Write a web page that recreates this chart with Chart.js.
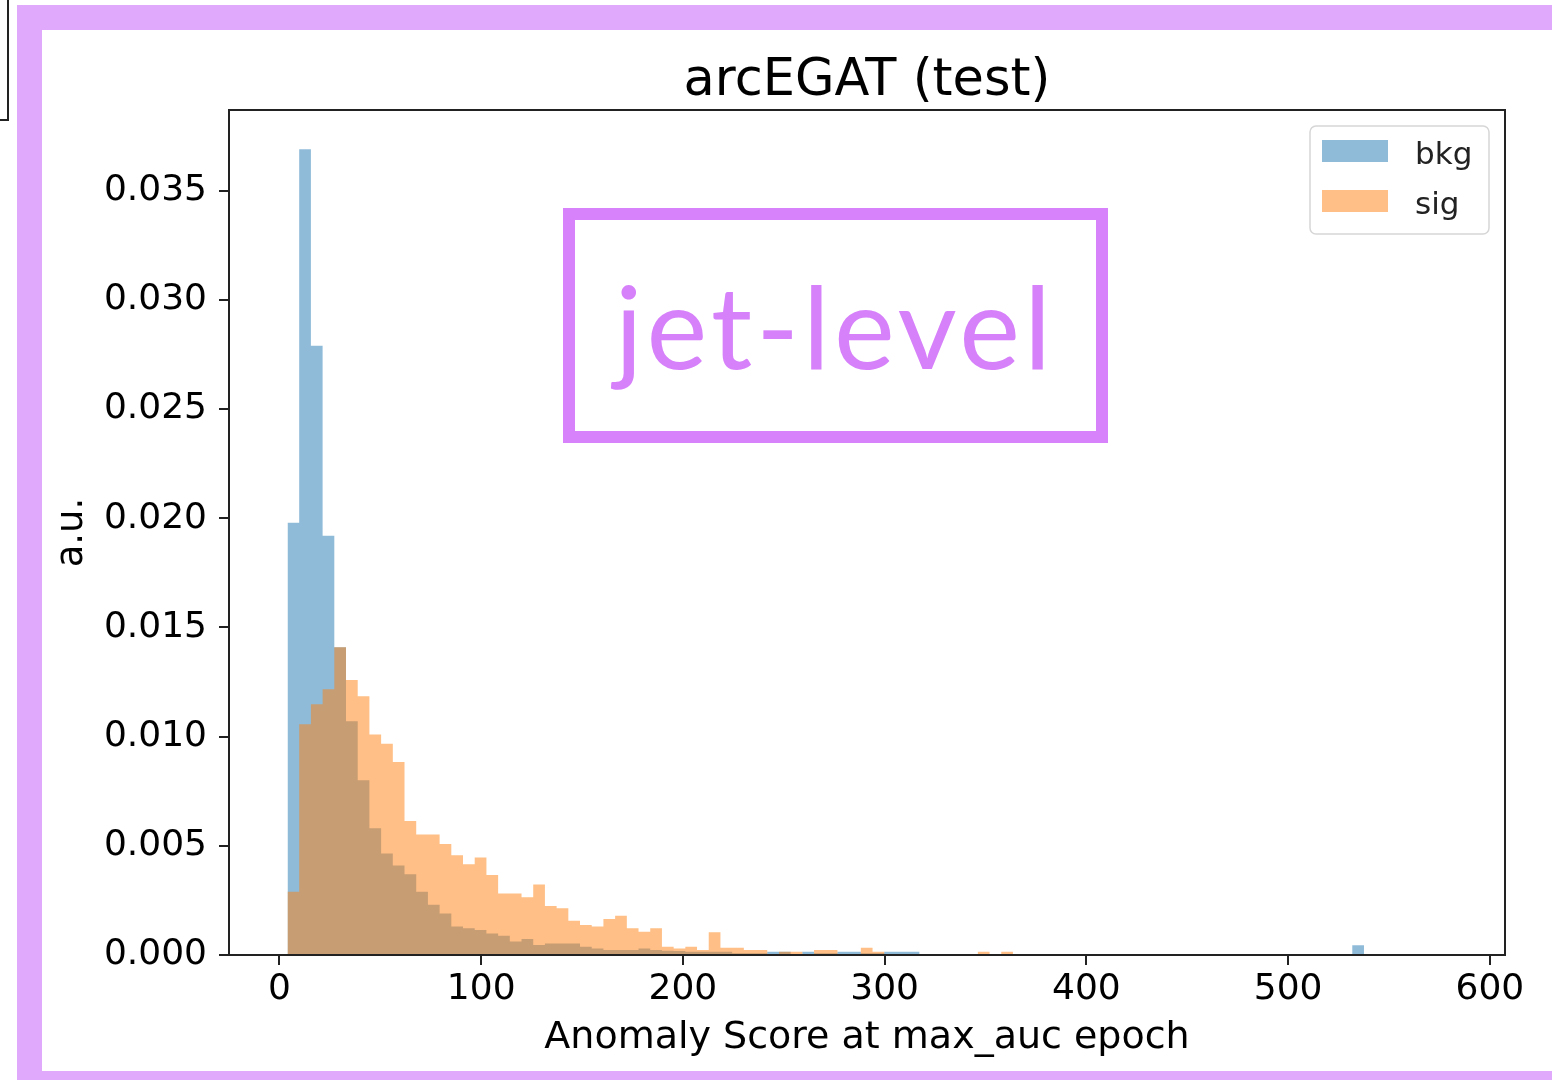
<!DOCTYPE html>
<html>
<head>
<meta charset="utf-8">
<title>arcEGAT (test)</title>
<script src="https://cdn.jsdelivr.net/npm/chart.js@4.4.1/dist/chart.umd.min.js"></script>
<style>
    html, body { margin: 0; padding: 0; background: #fff; }
    #wrap { position: relative; width: 1552px; height: 1080px; overflow: hidden; background: #fff; }
    #chart { position: absolute; left: 0; top: 0; }
    /* 外側の紫の枠 */
    #frame { position: absolute; left: 17px; top: 5px; width: 1600px; height: 1091px;
             box-sizing: border-box; border: 25px solid #e1a9fc; pointer-events: none; }
    /* 左上の黒い枠(一部だけ見えている) */
    #corner { position: absolute; left: -20px; top: -20px; width: 29px; height: 141px;
              box-sizing: border-box; border: 2px solid #222; pointer-events: none; }
    /* jet-level の注記 */
    #note { position: absolute; left: 563px; top: 208px; width: 545px; height: 235px;
            box-sizing: border-box; border: 12px solid #d782fb; pointer-events: none; }
    #note span { position: absolute; left: 40px; top: 35px; font-family: "Lato", sans-serif;
                 font-size: 115px; line-height: 138px; letter-spacing: 4px; color: #d680fa; white-space: nowrap; }
</style>
</head>
<body>
<div id="wrap">
    <canvas id="chart" width="1552" height="1080"></canvas>
    <div id="frame"></div>
    <div id="corner"></div>
    <div id="note"><span>jet-level</span></div>
</div>
<script>
// ヒストグラムのビン(左端と幅)
const binStart = 4.0;
const binWidth = 5.8;

// bkg の各ビンの高さ
const bkgValues = [
    0.0198, 0.0369, 0.0279, 0.0192, 0.0141, 0.0107, 0.0080, 0.0058, 0.00465, 0.0041,
    0.0037, 0.0029, 0.0023, 0.0019, 0.0013, 0.00122, 0.00114, 0.00099, 0.00088, 0.00062,
    0.00073, 0.00046, 0.00053, 0.00053, 0.00053, 0.00038, 0.0003, 0.00023, 0.00023, 0.00023,
    0.0003, 0.00023, 0.0002, 0.00018, 0.00015, 0.00015, 0.00015, 0.00015, 0.00008, 0.00008,
    0.00008, 0.00015, 0.00015, 0, 0.00015, 0.00008, 0.00008, 0.00015, 0.00015, 0.00008,
    0.00008, 0.00015, 0.00015, 0.00015, 0, 0, 0, 0, 0, 0,
    0, 0, 0, 0, 0, 0, 0, 0, 0, 0,
    0, 0, 0, 0, 0, 0, 0, 0, 0, 0,
    0, 0, 0, 0, 0, 0, 0, 0, 0, 0,
    0, 0.00045
];

// sig の各ビンの高さ
const sigValues = [
    0.0029, 0.01057, 0.01148, 0.01217, 0.0141, 0.0126, 0.01185, 0.0101, 0.00968, 0.00884,
    0.00614, 0.00552, 0.00552, 0.00508, 0.00457, 0.00416, 0.00447, 0.00366, 0.00282, 0.00282,
    0.00264, 0.00323, 0.00224, 0.00214, 0.00157, 0.00137, 0.0013, 0.00165, 0.0018, 0.00122,
    0.00107, 0.00122, 0.00038, 0.0003, 0.00038, 0.00023, 0.00104, 0.00033, 0.00033, 0.00023,
    0.00023, 0, 0.00015, 0.00015, 0, 0.00023, 0.00023, 0, 0, 0.00033,
    0.00015, 0, 0, 0, 0, 0, 0, 0, 0, 0.00015,
    0, 0.00015
];

// 目盛り
const xTicks = [0, 100, 200, 300, 400, 500, 600];
const yTicks = [0, 0.005, 0.010, 0.015, 0.020, 0.025, 0.030, 0.035];

const FONT = "'DejaVu Sans', sans-serif";
const TITLE = 'arcEGAT (test)';

// ビンの高さを階段状の点列に変換
function toSteps(values) {
    let points = [];
    values.forEach(function(v, i) {
        points.push({ x: binStart + i * binWidth, y: v });
    });
    points.push({ x: binStart + values.length * binWidth, y: 0 });
    return points;
}

function histDataset(label, values, color, order) {
    return {
        label: label,
        data: toSteps(values),
        stepped: true,
        fill: 'origin',
        backgroundColor: color,
        borderColor: 'transparent',
        borderWidth: 0,
        pointRadius: 0,
        order: order
    };
}

// 軸の枠線(四辺)とタイトル
const framePlugin = {
    id: 'frameBox',
    afterDatasetsDraw(chart) {
        const { ctx, chartArea } = chart;
        ctx.save();
        ctx.strokeStyle = '#222';
        ctx.lineWidth = 2;
        ctx.strokeRect(chartArea.left, chartArea.top, chartArea.right - chartArea.left, chartArea.bottom - chartArea.top);
        // タイトルはプロット領域の中央に
        ctx.fillStyle = '#000';
        ctx.font = '51px ' + FONT;
        ctx.textAlign = 'center';
        ctx.textBaseline = 'alphabetic';
        ctx.fillText(TITLE, (chartArea.left + chartArea.right) / 2, chartArea.top - 15);
        ctx.restore();
    }
};

// 凡例(右上)
const legendPlugin = {
    id: 'histLegend',
    afterDraw(chart) {
        const { ctx, chartArea } = chart;
        const w = 179, h = 108;
        const x = chartArea.right - 16 - w;
        const y = chartArea.top + 16;
        ctx.save();
        ctx.beginPath();
        ctx.roundRect(x, y, w, h, 6);
        ctx.fillStyle = 'rgba(255,255,255,0.8)';
        ctx.fill();
        ctx.strokeStyle = '#d6d6d6';
        ctx.lineWidth = 1.5;
        ctx.stroke();
        const items = [chart.data.datasets[1], chart.data.datasets[0]];
        items.forEach(function(ds, i) {
            const cy = y + 25 + i * 50;
            ctx.fillStyle = ds.backgroundColor;
            ctx.fillRect(x + 12, cy - 11, 66, 22);
            ctx.fillStyle = '#222';
            ctx.font = '31px ' + FONT;
            ctx.textBaseline = 'alphabetic';
            ctx.textAlign = 'left';
            ctx.fillText(ds.label, x + 105, cy + 13);
        });
        ctx.restore();
    }
};

function createChart() {
    const ctx = document.getElementById('chart').getContext('2d');
    new Chart(ctx, {
        type: 'line',
        data: {
            datasets: [
                histDataset('sig', sigValues, 'rgba(255,127,14,0.5)', 1),
                histDataset('bkg', bkgValues, 'rgba(31,119,180,0.5)', 2)
            ]
        },
        options: {
            responsive: false,
            animation: false,
            devicePixelRatio: 1,
            layout: { padding: { left: 0, top: 110, right: 47, bottom: 0 } },
            scales: {
                x: {
                    type: 'linear',
                    min: -25,
                    max: 607.5,
                    afterFit: function(scale) { scale.height = 125; },
                    afterBuildTicks: function(scale) { scale.ticks = xTicks.map(function(v) { return { value: v }; }); },
                    grid: { drawOnChartArea: false, drawTicks: true, tickLength: 10, color: '#222', lineWidth: 2 },
                    border: { display: false },
                    ticks: {
                        autoSkip: false, maxRotation: 0, padding: 3, color: '#000',
                        font: { family: FONT, size: 36 },
                        callback: function(v) { return String(v); }
                    },
                    title: {
                        display: true, text: 'Anomaly Score at max_auc epoch', color: '#000',
                        font: { family: FONT, size: 38 }, padding: { top: 0, bottom: 19 }
                    }
                },
                y: {
                    type: 'linear',
                    min: 0,
                    max: 0.0387,
                    afterFit: function(scale) { scale.width = 229; },
                    afterBuildTicks: function(scale) { scale.ticks = yTicks.map(function(v) { return { value: v }; }); },
                    grid: { drawOnChartArea: false, drawTicks: true, tickLength: 10, color: '#222', lineWidth: 2 },
                    border: { display: false },
                    ticks: {
                        autoSkip: false, padding: 12, color: '#000',
                        font: { family: FONT, size: 36 },
                        callback: function(v) { return v.toFixed(3); }
                    },
                    title: {
                        display: true, text: 'a.u.', color: '#000',
                        font: { family: FONT, size: 37 }, padding: { top: 50, bottom: 0 }
                    }
                }
            },
            plugins: {
                legend: { display: false },
                tooltip: { enabled: false },
                title: { display: false }
            }
        },
        plugins: [framePlugin, legendPlugin]
    });
}

createChart();
</script>
</body>
</html>
